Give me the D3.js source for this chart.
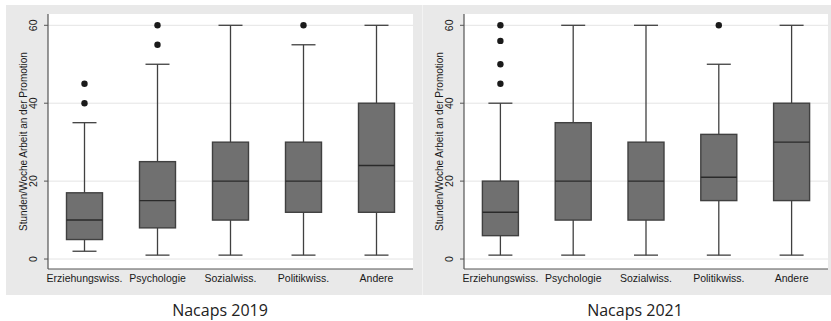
<!DOCTYPE html>
<html>
<head>
<meta charset="utf-8">
<script src="https://cdn.jsdelivr.net/npm/d3@7"></script>
<style>
  body { margin: 0; background: #fff; }
  svg { display: block; }
</style>
</head>
<body>
<div id="chart"></div>
<script>
// categories shared by both panels
const categories = ['Erziehungswiss.', 'Psychologie', 'Sozialwiss.', 'Politikwiss.', 'Andere'];
const yTicks = [0, 20, 40, 60];

// Nacaps 2019
const low2019 = [2, 1, 1, 1, 1];
const q1_2019 = [5, 8, 10, 12, 12];
const med2019 = [10, 15, 20, 20, 24];
const q3_2019 = [17, 25, 30, 30, 40];
const high2019 = [35, 50, 60, 55, 60];
const out2019 = [[40, 45], [55, 60], [], [60], []];

// Nacaps 2021
const low2021 = [1, 1, 1, 1, 1];
const q1_2021 = [6, 10, 10, 15, 15];
const med2021 = [12, 20, 20, 21, 30];
const q3_2021 = [20, 35, 30, 32, 40];
const high2021 = [40, 60, 60, 50, 60];
const out2021 = [[45, 50, 56, 60], [], [], [60], []];

const W = 831, H = 321;
const font = '"Liberation Sans", Arial, sans-serif';
const svg = d3.select('#chart').append('svg')
  .attr('width', W).attr('height', H);

svg.append('rect').attr('x', 6).attr('y', 5).attr('width', 825).attr('height', 290).attr('fill', '#f3f3f3');

function panel(opts) {
  const g = svg.append('g');
  g.append('rect')
    .attr('x', opts.bg[0]).attr('y', 5)
    .attr('width', opts.bg[1] - opts.bg[0]).attr('height', 290)
    .attr('fill', '#e9e9e9');

  const left = opts.plot[0], right = opts.plot[1];
  const top = 14, bottom = 269;

  g.append('rect')
    .attr('x', left).attr('y', top)
    .attr('width', right - left).attr('height', bottom - top)
    .attr('fill', '#fff');

  const x = d3.scaleBand().domain(categories).range([left, right]).padding(0);
  const y = d3.scaleLinear().domain([-2.56, 62.9]).range([bottom, top]);

  // grid
  g.selectAll('.grid').data(yTicks).enter().append('line')
    .attr('x1', left).attr('x2', right)
    .attr('y1', d => y(d)).attr('y2', d => y(d))
    .attr('stroke', '#e4e4e4').attr('stroke-width', 1);

  const rows = categories.map((c, i) => ({
    c: c, low: opts.low[i], q1: opts.q1[i], med: opts.med[i], q3: opts.q3[i], high: opts.high[i], out: opts.out[i]
  }));

  const bw = 36, cap = 24;
  const cx = d => x(d.c) + x.bandwidth() / 2;
  const col = '#404040';

  const b = g.selectAll('.box').data(rows).enter().append('g');

  // whiskers
  b.append('line')
    .attr('x1', cx).attr('x2', cx)
    .attr('y1', d => y(d.q3)).attr('y2', d => y(d.high))
    .attr('stroke', col).attr('stroke-width', 1.3);
  b.append('line')
    .attr('x1', cx).attr('x2', cx)
    .attr('y1', d => y(d.q1)).attr('y2', d => y(d.low))
    .attr('stroke', col).attr('stroke-width', 1.3);
  b.append('line')
    .attr('x1', d => cx(d) - cap / 2).attr('x2', d => cx(d) + cap / 2)
    .attr('y1', d => y(d.high)).attr('y2', d => y(d.high))
    .attr('stroke', col).attr('stroke-width', 1.3);
  b.append('line')
    .attr('x1', d => cx(d) - cap / 2).attr('x2', d => cx(d) + cap / 2)
    .attr('y1', d => y(d.low)).attr('y2', d => y(d.low))
    .attr('stroke', col).attr('stroke-width', 1.3);

  // box
  b.append('rect')
    .attr('x', d => cx(d) - bw / 2).attr('width', bw)
    .attr('y', d => y(d.q3)).attr('height', d => y(d.q1) - y(d.q3))
    .attr('fill', '#707070').attr('stroke', col).attr('stroke-width', 1.4);
  b.append('line')
    .attr('x1', d => cx(d) - bw / 2).attr('x2', d => cx(d) + bw / 2)
    .attr('y1', d => y(d.med)).attr('y2', d => y(d.med))
    .attr('stroke', '#2a2a2a').attr('stroke-width', 1.4);

  // outliers
  b.selectAll('.out').data(d => d.out.map(v => ({c: d.c, v: v}))).enter().append('circle')
    .attr('cx', cx).attr('cy', d => y(d.v)).attr('r', 3.2)
    .attr('fill', '#1a1a1a');

  // axes
  g.append('line').attr('x1', left).attr('x2', left).attr('y1', top).attr('y2', bottom)
    .attr('stroke', '#555').attr('stroke-width', 1.2);
  g.append('line').attr('x1', left).attr('x2', right).attr('y1', bottom).attr('y2', bottom)
    .attr('stroke', '#555').attr('stroke-width', 1.2);

  g.selectAll('.ytick').data(yTicks).enter().append('line')
    .attr('x1', left - 4).attr('x2', left)
    .attr('y1', d => y(d)).attr('y2', d => y(d))
    .attr('stroke', '#555');
  g.selectAll('.ylab').data(yTicks).enter().append('text')
    .attr('transform', d => `translate(${left - 11},${y(d)}) rotate(-90)`)
    .attr('text-anchor', 'middle')
    .attr('font-family', font)
    .attr('font-size', 10.5).attr('fill', '#1a1a1a')
    .text(d => d);

  g.append('text')
    .attr('transform', `translate(${left - 21},${(top + bottom) / 2}) rotate(-90)`)
    .attr('text-anchor', 'middle')
    .attr('font-family', font)
    .attr('font-size', 10).attr('fill', '#1a1a1a')
    .text('Stunden/Woche Arbeit an der Promotion');

  g.selectAll('.xlab').data(categories).enter().append('text')
    .attr('x', d => x(d) + x.bandwidth() / 2)
    .attr('y', bottom + 13)
    .attr('text-anchor', 'middle')
    .attr('font-family', font)
    .attr('font-size', 10.5).attr('fill', '#1a1a1a')
    .text(d => d);

  svg.append('text')
    .attr('x', opts.titleX).attr('y', 316)
    .attr('text-anchor', 'middle')
    .attr('font-family', '"Open Sans", sans-serif')
    .attr('font-size', 16).attr('fill', '#222')
    .text(opts.title);
}

panel({bg: [6, 422], plot: [48, 413], low: low2019, q1: q1_2019, med: med2019, q3: q3_2019, high: high2019, out: out2019, title: 'Nacaps 2019', titleX: 220});
panel({bg: [423, 831], plot: [464, 828], low: low2021, q1: q1_2021, med: med2021, q3: q3_2021, high: high2021, out: out2021, title: 'Nacaps 2021', titleX: 635});
</script>
</body>
</html>
